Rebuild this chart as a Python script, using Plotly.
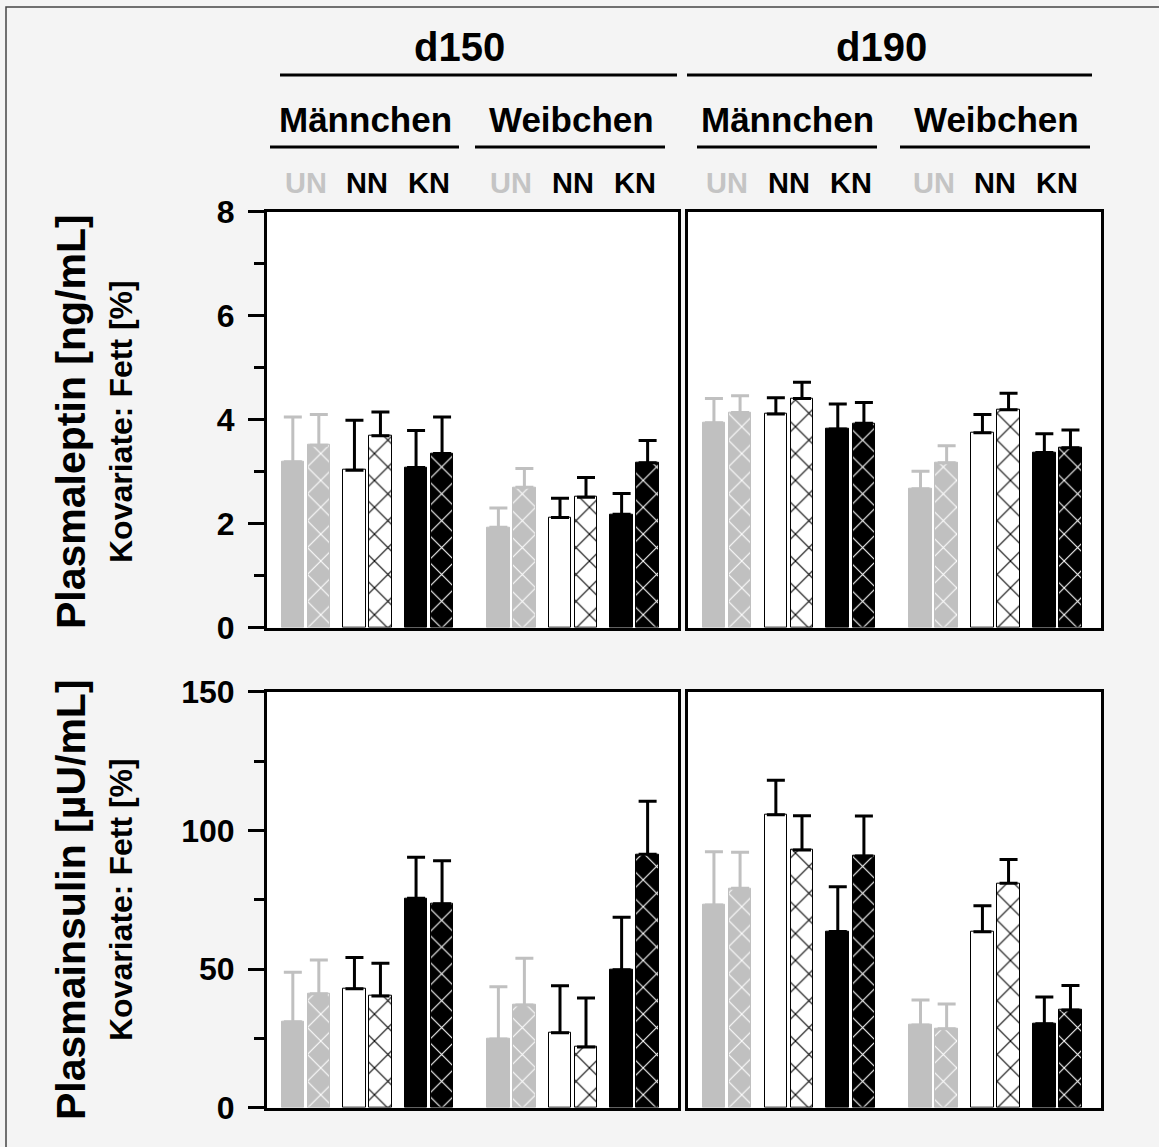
import plotly.graph_objects as go

W, H = 1159, 1147

days = ["d150", "d190"]
sexes = ["Männchen", "Weibchen"]
groups = ["UN", "NN", "KN"]

# value order: Männchen UN, NN, KN, Weibchen UN, NN, KN
leptin_d150_solid = [3.19, 3.03, 3.08, 1.93, 2.12, 2.18]
leptin_d150_solid_err = [0.86, 0.96, 0.71, 0.37, 0.37, 0.40]
leptin_d150_hatch = [3.51, 3.69, 3.35, 2.70, 2.51, 3.17]
leptin_d150_hatch_err = [0.59, 0.46, 0.70, 0.36, 0.38, 0.43]

leptin_d190_solid = [3.94, 4.11, 3.82, 2.67, 3.75, 3.37]
leptin_d190_solid_err = [0.47, 0.31, 0.48, 0.34, 0.35, 0.36]
leptin_d190_hatch = [4.14, 4.41, 3.93, 3.17, 4.19, 3.46]
leptin_d190_hatch_err = [0.32, 0.31, 0.40, 0.33, 0.32, 0.34]

insulin_d150_solid = [31.0, 42.9, 75.5, 24.8, 27.0, 49.7]
insulin_d150_solid_err = [17.8, 11.3, 14.8, 18.8, 17.0, 19.0]
insulin_d150_hatch = [41.1, 40.3, 73.5, 37.0, 21.9, 91.4]
insulin_d150_hatch_err = [12.2, 11.8, 15.5, 16.9, 17.7, 19.1]

insulin_d190_solid = [73.1, 105.6, 63.5, 29.8, 63.4, 30.3]
insulin_d190_solid_err = [19.2, 12.5, 16.2, 9.0, 9.4, 9.6]
insulin_d190_hatch = [79.1, 92.9, 90.8, 28.5, 80.9, 35.2]
insulin_d190_hatch_err = [13.0, 12.4, 14.4, 8.9, 8.6, 8.9]

leptin_ticks = [0, 2, 4, 6, 8]
insulin_ticks = [0, 50, 100, 150]

GRAY = "#c0c0c0"
FONT = "Liberation Sans, Arial, sans-serif"

group_fill = {"UN": GRAY, "NN": "white", "KN": "black"}
group_hatch_line = {"UN": "white", "NN": "black", "KN": "white"}
group_outline = {"UN": GRAY, "NN": "black", "KN": "black"}
group_err = {"UN": GRAY, "NN": "black", "KN": "black"}
group_label_color = {"UN": "#c4c4c4", "NN": "black", "KN": "black"}

# layout of categories along x (slot units)
def pair_center(si, gi):
    return 1.0 + gi + si * 3.336

OFF = 0.211
BW = 0.365

def px(x):
    return x / W

def py(y):
    return 1 - y / H

panels = [
    (1, 1, leptin_d150_solid, leptin_d150_solid_err, leptin_d150_hatch, leptin_d150_hatch_err),
    (1, 2, leptin_d190_solid, leptin_d190_solid_err, leptin_d190_hatch, leptin_d190_hatch_err),
    (2, 1, insulin_d150_solid, insulin_d150_solid_err, insulin_d150_hatch, insulin_d150_hatch_err),
    (2, 2, insulin_d190_solid, insulin_d190_solid_err, insulin_d190_hatch, insulin_d190_hatch_err),
]

fig = go.Figure()

for idx, (row, col, sv, se, hv, he) in enumerate(panels):
    ax = "" if idx == 0 else str(idx + 1)
    for gi, g in enumerate(groups):
        xs_s = [pair_center(si, gi) - OFF for si in range(len(sexes))]
        xs_h = [pair_center(si, gi) + OFF for si in range(len(sexes))]
        ys_s = [sv[si * 3 + gi] for si in range(len(sexes))]
        es_s = [se[si * 3 + gi] for si in range(len(sexes))]
        ys_h = [hv[si * 3 + gi] for si in range(len(sexes))]
        es_h = [he[si * 3 + gi] for si in range(len(sexes))]
        fig.add_trace(go.Bar(
            x=xs_s, y=ys_s, width=BW, xaxis="x" + ax, yaxis="y" + ax,
            marker=dict(color=group_fill[g], line=dict(color=group_outline[g], width=1)),
            error_y=dict(type="data", array=es_s, arrayminus=[0] * len(es_s), symmetric=False,
                         color=group_err[g], thickness=3, width=9),
            showlegend=False, hoverinfo="skip",
        ))
        fig.add_trace(go.Bar(
            x=xs_h, y=ys_h, width=BW, xaxis="x" + ax, yaxis="y" + ax,
            marker=dict(color=group_fill[g], line=dict(color=group_outline[g], width=1),
                        pattern=dict(shape="x", fgcolor=group_hatch_line[g], bgcolor=group_fill[g],
                                     size=19, solidity=0.11, fillmode="replace")),
            error_y=dict(type="data", array=es_h, arrayminus=[0] * len(es_h), symmetric=False,
                         color=group_err[g], thickness=3, width=9),
            showlegend=False, hoverinfo="skip",
        ))

xdom = {1: [px(267), px(678)], 2: [px(688), px(1101)]}
ydom = {1: [py(627.7), py(211.7)], 2: [py(1107.7), py(691.7)]}

layout = dict(
    width=W, height=H, margin=dict(l=0, r=0, t=0, b=0, pad=0, autoexpand=False),
    paper_bgcolor="#f4f4f4", plot_bgcolor="white",
    barmode="overlay", bargap=0,
    font=dict(family=FONT, color="black"),
)

for idx, (row, col, *_rest) in enumerate(panels):
    ax = "" if idx == 0 else str(idx + 1)
    xname = "xaxis" + ax
    yname = "yaxis" + ax
    layout[xname] = dict(
        domain=xdom[col], range=[0.37, 7.04], anchor="y" + ax, automargin=False,
        showticklabels=False, ticks="", showgrid=False, zeroline=False,
        showline=True, linewidth=3, linecolor="black", mirror=True,
    )
    ticks = leptin_ticks if row == 1 else insulin_ticks
    step = ticks[1] - ticks[0]
    yax = dict(
        domain=ydom[row], range=[ticks[0], ticks[-1]], anchor="x" + ax, automargin=False,
        showgrid=False, zeroline=False,
        showline=True, linewidth=3, linecolor="black", mirror=True,
    )
    if col == 1:
        yax.update(
            tickmode="array", tickvals=ticks, ticktext=[str(t) for t in ticks],
            ticks="outside", ticklen=16, tickwidth=3, tickcolor="black",
            ticklabelstandoff=7,
            tickfont=dict(family=FONT, size=32, weight="bold", color="black"),
            minor=dict(ticks="outside", ticklen=10, tickwidth=3, tickcolor="black", dtick=step / 2),
        )
    else:
        yax.update(showticklabels=False, ticks="")
    layout[yname] = yax

annotations = []
shapes = []

def text(t, x, y, size, color="black", angle=0):
    annotations.append(dict(
        text=t, x=px(x), y=py(y), xref="paper", yref="paper",
        xanchor="center", yanchor="middle", showarrow=False, textangle=angle,
        font=dict(family=FONT, size=size, weight="bold", color=color),
    ))

def hline(x0, x1, y, w=3):
    shapes.append(dict(type="line", xref="paper", yref="paper",
                       x0=px(x0), x1=px(x1), y0=py(y), y1=py(y),
                       line=dict(color="black", width=w)))

# day headers
text(days[0], 459, 47, 40)
text(days[1], 881, 47, 40)
hline(280, 677, 75)
hline(687, 1092, 75)

# sex headers
sex_centers = [365, 571, 787, 996]
sex_lines = [(270, 459), (475, 665), (697, 877), (900, 1090)]
for i, c in enumerate(sex_centers):
    text(sexes[i % 2], c, 120, 35)
    hline(sex_lines[i][0], sex_lines[i][1], 147)

# group labels
for col, xa in [(1, "x"), (2, "x2")]:
    for si in range(len(sexes)):
        for gi, g in enumerate(groups):
            annotations.append(dict(
                text=g, x=pair_center(si, gi), y=py(183), xref=xa, yref="paper",
                xanchor="center", yanchor="middle", showarrow=False,
                font=dict(family=FONT, size=29, weight="bold", color=group_label_color[g]),
            ))

# y titles
text("Plasmaleptin [ng/mL]", 71, 422, 41, angle=-90)
text("Kovariate: Fett [%]", 121, 422, 32, angle=-90)
text("Plasmainsulin [µU/mL]", 71, 900, 41, angle=-90)
text("Kovariate: Fett [%]", 121, 900, 32, angle=-90)

# outer frame
shapes.append(dict(type="rect", xref="paper", yref="paper",
                   x0=px(6), y0=py(7), x1=1.02, y1=-0.02,
                   line=dict(color="#444444", width=1.5), layer="below"))

layout["annotations"] = annotations
layout["shapes"] = shapes
fig.update_layout(**layout)

fig.write_html("out.html")
